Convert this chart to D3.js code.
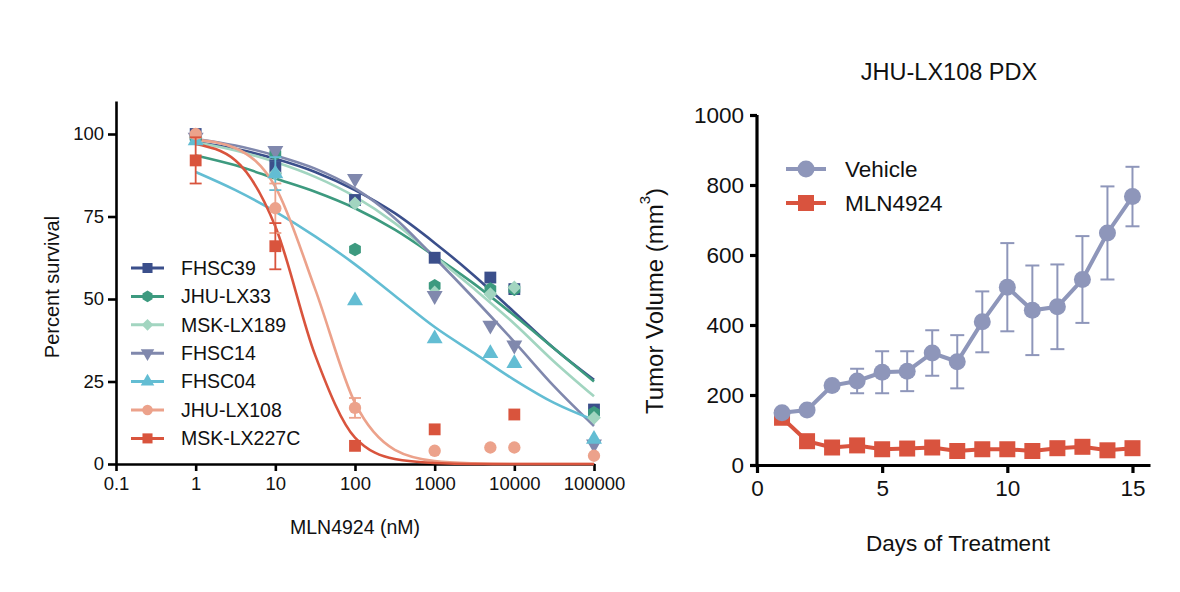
<!DOCTYPE html>
<html>
<head>
<meta charset="utf-8">
<script src="https://cdn.jsdelivr.net/npm/d3@7"></script>
<style>
    body { margin: 0; background: #fff; }
    text { font-family: "Liberation Sans", Arial, sans-serif; fill: #111; }
</style>
</head>
<body>
<svg id="chart" width="1180" height="592"></svg>
<script>
// ---- left panel: dose response ----
let doses = [1, 10, 100, 1000, 5000, 10000, 100000];
let lineNames = ['FHSC39', 'JHU-LX33', 'MSK-LX189', 'FHSC14', 'FHSC04', 'JHU-LX108', 'MSK-LX227C'];
let lineColors = ['#3b4f8b', '#3d9a7f', '#a2d5c0', '#8088ad', '#63bdd3', '#eca28b', '#d9543d'];
let lineShapes = ['square', 'hexagon', 'diamond', 'down', 'up', 'circle', 'square'];

let fhsc39 = [100, 90, 80, 62.5, 56.5, 53, 16.5];
let jhuLx33 = [99, 94, 65, 54, 53, 53, 15.5];
let mskLx189 = [99, 88, 79, 52, 51.5, 53.5, 14];
let fhsc14 = [99, 95, 86.5, 51, 42, 36, 6];
let fhsc04 = [98, 88, 49.5, 38, 33.5, 30.5, 7.5];
let jhuLx108 = [100, 77.5, 17, 4, 5, 5, 2.5];
let mskLx227c = [92, 66, 5.5, 10.5, null, 15, null];

// error bars (sem), same order as doses
let errFhsc39 = [0, 2, 0, 0, 0, 0, 0];
let errLx108 = [0, 7.5, 3, 0, 0, 0, 0];
let errLx227c = [7, 7, 0, 0, 0, 0, 0];
let errFhsc04 = [0, 5, 0, 0, 0, 0, 0];

// fitted curves at half-decade doses
let fitDoses = [1, 3.16, 10, 31.6, 100, 316, 1000, 3162, 10000, 31623, 100000];
let fitFhsc39 = [97.5, 95.5, 92.5, 88.5, 83, 76, 67, 57, 46, 35, 25.5];
let fitLx33 = [93.5, 90.5, 86.5, 82.5, 77.5, 71, 63, 54.5, 45, 35, 25];
let fitLx189 = [97.5, 95, 91.5, 87, 81, 73, 63, 53, 42.5, 31, 20.5];
let fitFhsc14 = [98.5, 96.5, 93.5, 89.5, 83.5, 74.5, 62.5, 50, 37, 23.5, 11.5];
let fitFhsc04 = [88.5, 83, 76.5, 69, 60.5, 51, 41.5, 33.5, 25.5, 18.5, 13.3];
let fitLx108 = [98.3, 95.7, 84, 53, 18.5, 4.3, 0.9, 0.2, 0, 0, 0];
let fitLx227c = [97, 92, 72, 33, 8, 1.5, 0.3, 0, 0, 0, 0];

let doseTicks = [0.1, 1, 10, 100, 1000, 10000, 100000];
let survivalTicks = [0, 25, 50, 75, 100];

// ---- right panel: PDX ----
let days = [1, 2, 3, 4, 5, 6, 7, 8, 9, 10, 11, 12, 13, 14, 15];
let vehicle = [149, 157, 227, 240, 265, 268, 320, 295, 409, 508, 442, 452, 530, 663, 767];
let vehicleErr = [0, 0, 0, 35, 60, 57, 65, 76, 87, 126, 128, 121, 124, 133, 85];
let mln4924 = [135, 68, 50, 56, 45, 47, 50, 40, 45, 45, 40, 48, 52, 42, 48];
let dayTicks = [0, 5, 10, 15];
let volumeTicks = [0, 200, 400, 600, 800, 1000];

let svg = d3.select('#chart');

let seriesVals = [fhsc39, jhuLx33, mskLx189, fhsc14, fhsc04, jhuLx108, mskLx227c];
let seriesErr = [errFhsc39, null, null, null, errFhsc04, errLx108, errLx227c];
let seriesFit = [fitFhsc39, fitLx33, fitLx189, fitFhsc14, fitFhsc04, fitLx108, fitLx227c];

// hexagon path, radius r
function hexPath(r) {
    let pts = d3.range(6).map(i => {
        let a = Math.PI / 6 + i * Math.PI / 3;
        return [r * Math.cos(a), r * Math.sin(a)];
    });
    return 'M' + pts.join('L') + 'Z';
}

function shapePath(shape, k) {
    k = k || 1;
    switch (shape) {
        case 'square': return d3.symbol(d3.symbolSquare, 140 * k * k)();
        case 'hexagon': return hexPath(6.8 * k);
        case 'diamond': return d3.symbol(d3.symbolDiamond2, 120 * k * k)();
        case 'up': return d3.symbol(d3.symbolTriangle, 110 * k * k)();
        case 'down': return d3.symbol(d3.symbolTriangle, 110 * k * k)();
        default: return d3.symbol(d3.symbolCircle, 120 * k * k)();
    }
}

function drawLeft() {
    let x = d3.scaleLog().domain([0.1, 100000]).range([116, 594]);
    let y = d3.scaleLinear().domain([0, 110]).range([464, 101]);
    let g = svg.append('g');

    let xAxis = g.append('g').attr('transform', 'translate(0,464)')
        .call(d3.axisBottom(x).tickValues(doseTicks).tickFormat(d3.format('')).tickSize(7).tickPadding(6).tickSizeOuter(0));
    let yAxis = g.append('g').attr('transform', 'translate(116,0)')
        .call(d3.axisLeft(y).tickValues(survivalTicks).tickSize(8).tickPadding(4).tickSizeOuter(0));
    [xAxis, yAxis].forEach(a => {
        a.selectAll('path, line').attr('stroke', '#000').attr('stroke-width', 2.6);
        a.selectAll('text').attr('font-size', 18.5).attr('fill', '#111');
    });

    g.append('text').attr('transform', 'translate(52,287) rotate(-90)')
        .attr('text-anchor', 'middle').attr('dy', '0.35em').attr('font-size', 20).text('Percent survival');
    g.append('text').attr('x', 355).attr('y', 527).attr('text-anchor', 'middle')
        .attr('dy', '0.35em').attr('font-size', 19.5).text('MLN4924 (nM)');

    let line = d3.line().x(d => x(d[0])).y(d => y(d[1])).curve(d3.curveMonotoneX);

    seriesFit.forEach((fit, i) => {
        g.append('path').datum(fit.map((v, j) => [fitDoses[j], v]))
            .attr('d', line).attr('fill', 'none')
            .attr('stroke', lineColors[i]).attr('stroke-width', 2.6);
    });

    seriesVals.forEach((vals, i) => {
        let err = seriesErr[i];
        let pts = vals.map((v, j) => ({d: doses[j], v: v, e: err ? err[j] : 0})).filter(p => p.v !== null);
        let eb = g.append('g').attr('stroke', lineColors[i]).attr('stroke-width', 1.8);
        pts.filter(p => p.e > 0).forEach(p => {
            eb.append('line').attr('x1', x(p.d)).attr('x2', x(p.d)).attr('y1', y(p.v - p.e)).attr('y2', y(p.v + p.e));
            [p.v - p.e, p.v + p.e].forEach(t => {
                eb.append('line').attr('x1', x(p.d) - 6).attr('x2', x(p.d) + 6).attr('y1', y(t)).attr('y2', y(t));
            });
        });
        g.selectAll(null).data(pts).enter().append('path')
            .attr('d', shapePath(lineShapes[i]))
            .attr('transform', p => `translate(${x(p.d)},${y(p.v)})` + (lineShapes[i] === 'down' ? ' rotate(180)' : ''))
            .attr('fill', lineColors[i]);
    });

    // legend
    let leg = g.append('g');
    lineNames.forEach((name, i) => {
        let ly = 268 + i * 28.4;
        leg.append('line').attr('x1', 131).attr('x2', 164).attr('y1', ly).attr('y2', ly)
            .attr('stroke', lineColors[i]).attr('stroke-width', 3);
        leg.append('path').attr('d', shapePath(lineShapes[i], 0.85))
            .attr('transform', `translate(147.5,${ly})` + (lineShapes[i] === 'down' ? ' rotate(180)' : ''))
            .attr('fill', lineColors[i]);
        leg.append('text').attr('x', 181).attr('y', ly).attr('dy', '0.35em')
            .attr('font-size', 19.5).text(name);
    });
}

function drawRight() {
    let x = d3.scaleLinear().domain([0, 15.7]).range([757, 1150]);
    let y = d3.scaleLinear().domain([0, 1000]).range([465, 115]);
    let g = svg.append('g');
    let vColor = '#8e96ba', mColor = '#d9533e';

    let xAxis = g.append('g').attr('transform', 'translate(0,465)')
        .call(d3.axisBottom(x).tickValues(dayTicks).tickSize(8).tickPadding(7).tickSizeOuter(0));
    let yAxis = g.append('g').attr('transform', 'translate(757,0)')
        .call(d3.axisLeft(y).tickValues(volumeTicks).tickFormat(d3.format('d')).tickSize(7).tickPadding(6).tickSizeOuter(0));
    [xAxis, yAxis].forEach(a => {
        a.selectAll('path, line').attr('stroke', '#000').attr('stroke-width', 3.2);
        a.selectAll('text').attr('font-size', 22.5).attr('fill', '#111');
    });
    yAxis.select('path').attr('d', 'M0,' + y(1000) + 'V' + y(0));

    g.append('text').attr('x', 949).attr('y', 72).attr('text-anchor', 'middle')
        .attr('dy', '0.35em').attr('font-size', 23.5).text('JHU-LX108 PDX');
    let yl = g.append('text').attr('transform', 'translate(655,301) rotate(-90)')
        .attr('text-anchor', 'middle').attr('dy', '0.35em').attr('font-size', 24);
    yl.append('tspan').text('Tumor Volume (mm');
    yl.append('tspan').attr('font-size', 15).attr('dy', '-0.9em').text('3');
    yl.append('tspan').attr('dy', '0.55em').text(')');
    g.append('text').attr('x', 958).attr('y', 543).attr('text-anchor', 'middle')
        .attr('dy', '0.35em').attr('font-size', 22.5).text('Days of Treatment');

    let line = d3.line().x(d => x(d[0])).y(d => y(d[1]));

    // vehicle error bars
    let eb = g.append('g').attr('stroke', vColor).attr('stroke-width', 2);
    days.forEach((d, i) => {
        let e = vehicleErr[i];
        if (!e) return;
        eb.append('line').attr('x1', x(d)).attr('x2', x(d)).attr('y1', y(vehicle[i] - e)).attr('y2', y(vehicle[i] + e));
        [vehicle[i] - e, vehicle[i] + e].forEach(t => {
            eb.append('line').attr('x1', x(d) - 7).attr('x2', x(d) + 7).attr('y1', y(t)).attr('y2', y(t));
        });
    });

    g.append('path').datum(days.map((d, i) => [d, mln4924[i]])).attr('d', line)
        .attr('fill', 'none').attr('stroke', mColor).attr('stroke-width', 4);
    g.selectAll('.msq').data(days).enter().append('rect')
        .attr('x', (d) => x(d) - 8).attr('y', (d, i) => y(mln4924[i]) - 8)
        .attr('width', 16).attr('height', 16).attr('fill', mColor);

    g.append('path').datum(days.map((d, i) => [d, vehicle[i]])).attr('d', line)
        .attr('fill', 'none').attr('stroke', vColor).attr('stroke-width', 4);
    g.selectAll('.vdot').data(days).enter().append('circle')
        .attr('cx', d => x(d)).attr('cy', (d, i) => y(vehicle[i])).attr('r', 8.5).attr('fill', vColor);

    // legend
    let leg = [['Vehicle', vColor, 'circle'], ['MLN4924', mColor, 'square']];
    leg.forEach((l, i) => {
        let ly = 169 + i * 34;
        g.append('line').attr('x1', 786).attr('x2', 826).attr('y1', ly).attr('y2', ly)
            .attr('stroke', l[1]).attr('stroke-width', 4);
        if (l[2] === 'circle') {
            g.append('circle').attr('cx', 806).attr('cy', ly).attr('r', 8.5).attr('fill', l[1]);
        } else {
            g.append('rect').attr('x', 798).attr('y', ly - 8).attr('width', 16).attr('height', 16).attr('fill', l[1]);
        }
        g.append('text').attr('x', 845).attr('y', ly).attr('dy', '0.35em')
            .attr('font-size', 22.5).text(l[0]);
    });
}

drawLeft();
drawRight();
</script>
</body>
</html>
